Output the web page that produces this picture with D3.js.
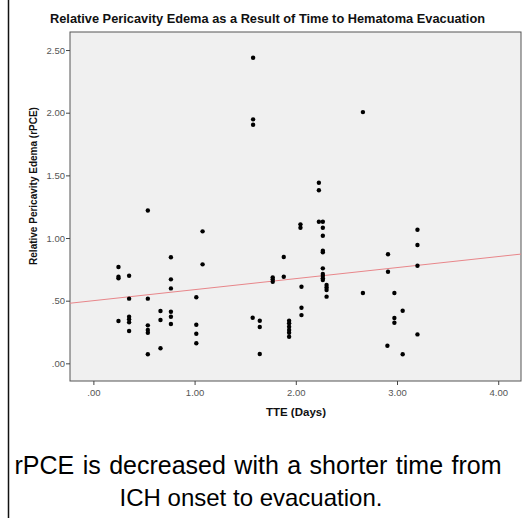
<!DOCTYPE html>
<html>
<head>
<meta charset="utf-8">
<script src="https://cdn.jsdelivr.net/npm/d3@7"></script>
<style>
  html, body { margin: 0; padding: 0; background: #fff; }
  svg { display: block; font-family: "Liberation Sans", Arial, sans-serif; }
</style>
</head>
<body>
<svg id="chart" width="528" height="518"></svg>
<script>
// ---- Data ----
const tteDays = [
  1.578, 1.578, 1.578, 2.663, 2.228, 2.228, 0.538, 1.079, 0.766, 1.079,
  0.248, 0.248, 0.248, 0.353, 0.766, 0.766, 0.353, 0.538, 1.017, 0.663,
  0.766, 0.766, 0.663, 0.248, 0.353, 0.353, 0.353, 0.353, 0.538, 0.538,
  0.538, 0.766, 1.017, 1.017, 1.017, 0.538, 0.663, 1.574, 1.644, 1.644,
  1.644, 1.772, 1.772, 1.772, 1.881, 1.881, 1.934, 1.934, 1.934, 1.934,
  1.934, 1.934, 2.046, 2.046, 2.056, 2.056, 2.056, 2.228, 2.267, 2.267,
  2.267, 2.267, 2.267, 2.267, 2.267, 2.267, 2.267, 2.267, 2.304, 2.304,
  2.304, 2.304, 2.663, 2.911, 2.911, 2.974, 3.056, 2.974, 2.974, 2.905,
  3.056, 3.202, 3.202, 3.202, 3.202
];
const rpce = [
  2.439, 1.947, 1.904, 2.005, 1.441, 1.381, 1.220, 1.053, 0.846, 0.790,
  0.769, 0.691, 0.678, 0.699, 0.670, 0.598, 0.516, 0.516, 0.527, 0.417,
  0.412, 0.372, 0.346, 0.338, 0.372, 0.351, 0.327, 0.258, 0.303, 0.266,
  0.244, 0.314, 0.308, 0.236, 0.160, 0.072, 0.120, 0.364, 0.340, 0.290,
  0.074, 0.686, 0.670, 0.651, 0.848, 0.691, 0.340, 0.319, 0.292, 0.266,
  0.244, 0.212, 1.109, 1.082, 0.611, 0.444, 0.385, 1.130, 1.130, 1.082,
  1.018, 0.899, 0.886, 0.758, 0.713, 0.697, 0.678, 0.665, 0.625, 0.606,
  0.585, 0.532, 0.561, 0.870, 0.731, 0.561, 0.420, 0.362, 0.324, 0.140,
  0.072, 1.066, 0.944, 0.779, 0.231
];
const xTicks = [0, 1, 2, 3, 4];
const yTicks = [0, 0.5, 1, 1.5, 2, 2.5];
const fitIntercept = 0.50;
const fitSlope = 0.088;
const xDomain = [-0.231, 4.225];
const yDomain = [-0.141, 2.644];

const titleText = "Relative Pericavity Edema as a Result of Time to Hematoma Evacuation";
const xLabel = "TTE (Days)";
const yLabel = "Relative Pericavity Edema (rPCE)";
const captionLines = ["rPCE is decreased with a shorter time from", "ICH onset to evacuation."];

// ---- Layout ----
const svg = d3.select("#chart");
const plot = { left: 70, top: 32, right: 521, bottom: 381 };

const x = d3.scaleLinear().domain(xDomain).range([plot.left, plot.right]);
const y = d3.scaleLinear().domain(yDomain).range([plot.bottom, plot.top]);

// left border of the figure
svg.append("line")
  .attr("x1", 8.5).attr("x2", 8.5).attr("y1", 0).attr("y2", 518)
  .attr("stroke", "#111").attr("stroke-width", 1.5);

// plot background
svg.append("rect")
  .attr("x", plot.left).attr("y", plot.top)
  .attr("width", plot.right - plot.left).attr("height", plot.bottom - plot.top)
  .attr("fill", "#f0f0f0").attr("stroke", "#555").attr("stroke-width", 1);

// axes
const fmt = d => d < 1 ? d3.format(".2f")(d).replace(/^0/, "") : d3.format(".2f")(d);

const xAxis = svg.append("g")
  .attr("transform", `translate(0,${plot.bottom})`)
  .call(d3.axisBottom(x).tickValues(xTicks).tickFormat(fmt).tickSize(4).tickPadding(4));
const yAxis = svg.append("g")
  .attr("transform", `translate(${plot.left},0)`)
  .call(d3.axisLeft(y).tickValues(yTicks).tickFormat(fmt).tickSize(4).tickPadding(1));

[xAxis, yAxis].forEach(g => {
  g.select(".domain").remove();
  g.selectAll(".tick line").attr("stroke", "#444");
  g.selectAll(".tick text")
    .attr("fill", "#555")
    .style("font-size", "9.5px")
    .style("font-family", "'Liberation Sans', Arial, sans-serif");
});

// regression line
svg.append("line")
  .attr("x1", x(xDomain[0])).attr("y1", y(fitIntercept + fitSlope * xDomain[0]))
  .attr("x2", x(xDomain[1])).attr("y2", y(fitIntercept + fitSlope * xDomain[1]))
  .attr("stroke", "#e8868a").attr("stroke-width", 1);

// points
svg.append("g").selectAll("circle")
  .data(d3.range(tteDays.length))
  .join("circle")
  .attr("cx", i => x(tteDays[i]))
  .attr("cy", i => y(rpce[i]))
  .attr("r", 2.2)
  .attr("fill", "#000");

// title
svg.append("text")
  .attr("x", 267.5).attr("y", 23)
  .attr("text-anchor", "middle")
  .style("font-size", "12.8px").style("font-weight", "bold")
  .attr("fill", "#111")
  .text(titleText);

// x label
svg.append("text")
  .attr("x", 296).attr("y", 416)
  .attr("text-anchor", "middle")
  .style("font-size", "11.5px").style("font-weight", "bold")
  .attr("fill", "#111")
  .text(xLabel);

// y label
svg.append("text")
  .attr("transform", `translate(37,186) rotate(-90)`)
  .attr("text-anchor", "middle")
  .style("font-size", "10px").style("font-weight", "bold")
  .attr("fill", "#111")
  .text(yLabel);

// caption
captionLines.forEach((t, i) => {
  svg.append("text")
    .attr("x", i === 0 ? 258 : 251).attr("y", 474 + i * 32)
    .attr("text-anchor", "middle")
    .style("font-size", i === 0 ? "25px" : "24px")
    .style("word-spacing", i === 0 ? "1.5px" : "0px")
    .attr("fill", "#000")
    .text(t);
});
</script>
</body>
</html>
